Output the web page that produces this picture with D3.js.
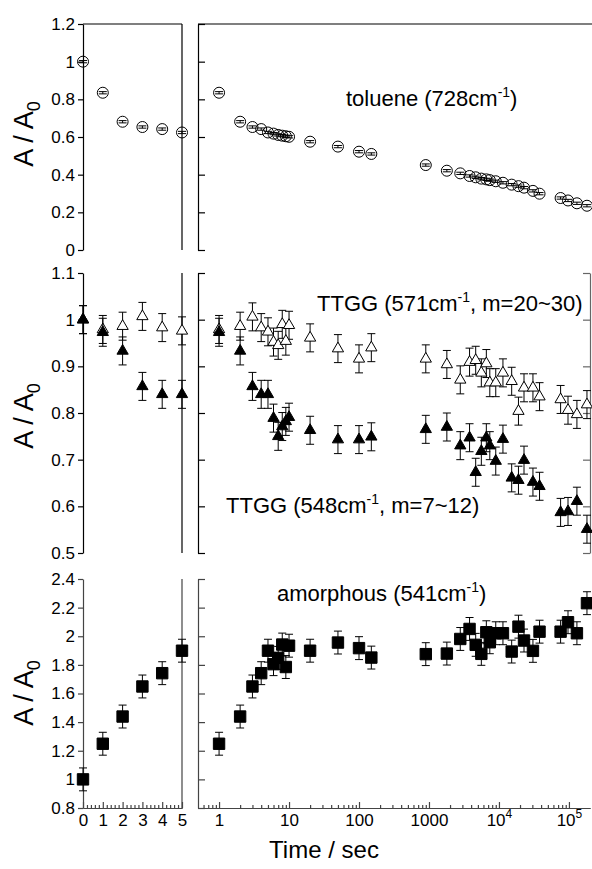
<!DOCTYPE html>
<html>
<head>
<meta charset="utf-8">
<script src="https://cdn.jsdelivr.net/npm/d3@7"></script>
<style>
  body { margin: 0; background: #fff; }
  svg { display: block; font-family: "Liberation Sans", Arial, sans-serif; }
</style>
</head>
<body>
<div id="chart"></div>
<script>
// time points (sec)
const tLeft = [0, 1, 2, 3, 4, 5];
const tRight = [1, 2, 3, 4, 5, 6, 7, 8, 9, 10, 20, 50, 100, 150,
  900, 1800, 2800, 3800, 4650, 5600, 6600, 7400, 9000, 11400, 15200,
  19000, 22800, 30600, 38000, 76000, 97000, 130000, 181000];

// toluene 728 cm-1
const toluLeft = [1.0, 0.835, 0.681, 0.653, 0.642, 0.624];
const toluRight = [0.835, 0.681, 0.653, 0.642, 0.624, 0.618, 0.611, 0.607, 0.604, 0.601,
  0.575, 0.549, 0.522, 0.510, 0.451, 0.421, 0.407, 0.393, 0.386, 0.379, 0.375,
  0.371, 0.365, 0.357, 0.347, 0.339, 0.331, 0.314, 0.299, 0.276, 0.263, 0.248, 0.235];
const toluErr = 0.006;

// TTGG 571 cm-1 (open triangles)
const t571Left = [1.0, 0.979, 0.986, 1.007, 0.983, 0.976];
const t571Right = [0.979, 0.986, 1.006, 0.983, 0.974, 0.952, 0.945, 0.990, 0.954, 0.988,
  0.961, 0.938, 0.916, 0.940, 0.916, 0.904, 0.871, 0.909, 0.913, 0.886, 0.906,
  0.865, 0.865, 0.886, 0.868, 0.804, 0.854, 0.854, 0.835, 0.829, 0.806, 0.797, 0.818];

// TTGG 548 cm-1 (filled triangles)
const t548Left = [1.0, 0.973, 0.933, 0.857, 0.840, 0.840];
const t548Right = [0.973, 0.933, 0.857, 0.840, 0.840, 0.789, 0.750, 0.771, 0.782, 0.791,
  0.763, 0.743, 0.743, 0.749, 0.765, 0.770, 0.730, 0.747, 0.673, 0.718, 0.747,
  0.730, 0.697, 0.744, 0.661, 0.656, 0.699, 0.652, 0.643, 0.587, 0.589, 0.611, 0.551];
const ttggErr = 0.03;

// amorphous 541 cm-1
const amorLeft = [1.0, 1.249, 1.439, 1.649, 1.742, 1.899];
const amorRight = [1.249, 1.439, 1.649, 1.742, 1.899, 1.805, 1.849, 1.942, 1.785, 1.934,
  1.899, 1.956, 1.917, 1.851, 1.875, 1.879, 1.981, 2.051, 1.940, 1.877, 2.028,
  1.958, 2.021, 2.021, 1.893, 2.067, 1.970, 1.898, 2.032, 2.032, 2.098, 2.021, 2.231];
const amorErr = 0.08;

const W = 592, H = 869;
const svg = d3.select("#chart").append("svg").attr("width", W).attr("height", H);

const xL = d3.scaleLinear().domain([0, 5]).range([83, 182]);
const xR = d3.scaleLog().domain([0.5, 2e5]).range([198, 590]);
const fmt = d3.format("~g");

const panels = [
  { y: d3.scaleLinear().domain([0, 1.2]).range([250, 24]), ticks: d3.range(0, 1.21, 0.2), box: true, rightSpine: false, color: "#000", labelY: 134 },
  { y: d3.scaleLinear().domain([0.5, 1.1]).range([553, 273]), ticks: d3.range(0.5, 1.11, 0.1), box: false, rightSpine: true, color: "#000", labelY: 416 },
  { y: d3.scaleLinear().domain([0.8, 2.4]).range([808, 579]), ticks: d3.range(0.8, 2.41, 0.2), box: false, rightSpine: false, color: "#444", labelY: 693 }
];

function styleAxis(g, color) {
  g.attr("font-family", null).attr("font-size", 17);
  g.selectAll("path, line").attr("stroke", color).attr("stroke-width", 1.2);
  g.selectAll("text").attr("fill", "#000");
}

panels.forEach(p => {
  const [y0, y1] = p.y.range();
  // left panel y axis with labels
  svg.append("g").attr("transform", "translate(83,0)")
    .call(d3.axisLeft(p.y).tickValues(p.ticks).tickSize(5).tickSizeOuter(0).tickPadding(3).tickFormat(fmt))
    .call(g => styleAxis(g, p.color));
  // right edge of left panel (t = 5)
  svg.append("line").attr("x1", xL(5)).attr("x2", xL(5)).attr("y1", y0).attr("y2", y1)
    .attr("stroke", p.color).attr("stroke-width", 1.2);
  // right panel: left spine, inward ticks
  svg.append("g").attr("transform", "translate(198,0)")
    .call(d3.axisRight(p.y).tickValues(p.ticks).tickSize(7).tickSizeOuter(0).tickFormat(""))
    .call(g => styleAxis(g, p.color));
  if (p.rightSpine) {
    svg.append("g").attr("transform", "translate(590,0)")
      .call(d3.axisLeft(p.y).tickValues(p.ticks).tickSize(7).tickSizeOuter(0).tickFormat(""))
      .call(g => styleAxis(g, "#666"));
  }
  if (p.box) {
    svg.append("line").attr("x1", 83).attr("x2", 182).attr("y1", y1).attr("y2", y1).attr("stroke", "#000").attr("stroke-width", 1.2);
    svg.append("line").attr("x1", 198).attr("x2", 592).attr("y1", y1).attr("y2", y1).attr("stroke", "#000").attr("stroke-width", 1.2);
  }
  // y label
  const lab = svg.append("text")
    .attr("transform", `translate(33,${p.labelY}) rotate(-90)`)
    .attr("text-anchor", "middle").attr("font-size", 27);
  lab.append("tspan").text("A / A");
  lab.append("tspan").attr("font-size", 18).attr("dy", 7).text("0");
});

// bottom x axes (panel 3)
const yBottom = 808;
const axColor = "#444";
svg.append("g").attr("transform", `translate(0,${yBottom})`)
  .call(d3.axisBottom(xL).tickValues([0, 1, 2, 3, 4, 5]).tickSize(-6).tickSizeOuter(0).tickPadding(6).tickFormat(fmt))
  .call(g => styleAxis(g, axColor));
svg.append("g").attr("transform", `translate(0,${yBottom})`)
  .call(d3.axisBottom(xL).tickValues(d3.range(0, 5.01, 0.2).filter(v => Math.abs(v - Math.round(v)) > 0.01)).tickSize(-3).tickSizeOuter(0).tickFormat(""))
  .call(g => styleAxis(g, axColor));

const majorR = [1, 10, 100, 1000, 1e4, 1e5];
const minorR = [];
for (let e = -1; e <= 5; e++) for (let k = 2; k <= 9; k++) {
  const v = k * Math.pow(10, e);
  if (v > 0.5 && v < 2e5) minorR.push(v);
}
svg.append("g").attr("transform", `translate(0,${yBottom})`)
  .call(d3.axisBottom(xR).tickValues(majorR).tickSize(-6).tickSizeOuter(0).tickPadding(6).tickFormat(d => d))
  .call(g => styleAxis(g, axColor))
  .call(g => g.selectAll(".tick text").each(function(d) {
    if (d >= 1e4) {
      const t = d3.select(this).text("");
      t.append("tspan").text("10");
      t.append("tspan").attr("font-size", 12).attr("dy", -8).text(Math.round(Math.log10(d)));
    } else {
      d3.select(this).text(d);
    }
  }));
svg.append("g").attr("transform", `translate(0,${yBottom})`)
  .call(d3.axisBottom(xR).tickValues(minorR).tickSize(-3).tickSizeOuter(0).tickFormat(""))
  .call(g => styleAxis(g, axColor));

svg.append("text").attr("x", 324).attr("y", 858).attr("text-anchor", "middle")
  .attr("font-size", 24).text("Time / sec");

// series drawing
function drawSeries(panel, xs, ts, vals, err, shape, fill) {
  const g = svg.append("g");
  const pts = ts.map((t, i) => ({ x: xs(t), y: panel.y(vals[i]), lo: panel.y(vals[i] - err), hi: panel.y(vals[i] + err) }));
  g.selectAll("path.eb").data(pts).enter().append("path")
    .attr("class", "eb")
    .attr("d", d => `M${d.x},${d.lo}V${d.hi}M${d.x - 4},${d.lo}H${d.x + 4}M${d.x - 4},${d.hi}H${d.x + 4}`)
    .attr("stroke", "#000").attr("stroke-width", 1).attr("fill", "none");
  if (shape === "circle") {
    g.selectAll("circle").data(pts).enter().append("circle")
      .attr("cx", d => d.x).attr("cy", d => d.y).attr("r", 5.5)
      .attr("fill", "none").attr("stroke", "#000").attr("stroke-width", 1);
  } else {
    const sym = shape === "triangle"
      ? d3.symbol().type(d3.symbolTriangle).size(55)
      : d3.symbol().type(d3.symbolSquare).size(130);
    g.selectAll("path.m").data(pts).enter().append("path")
      .attr("class", "m")
      .attr("transform", d => `translate(${d.x},${d.y})`)
      .attr("d", sym)
      .attr("fill", fill).attr("stroke", "#000").attr("stroke-width", 1);
  }
}

const [p1, p2, p3] = panels;
drawSeries(p1, xL, tLeft, toluLeft, toluErr, "circle");
drawSeries(p1, xR, tRight, toluRight, toluErr, "circle");
drawSeries(p2, xL, tLeft, t571Left, ttggErr, "triangle", "#fff");
drawSeries(p2, xR, tRight, t571Right, ttggErr, "triangle", "#fff");
drawSeries(p2, xL, tLeft, t548Left, ttggErr, "triangle", "#000");
drawSeries(p2, xR, tRight, t548Right, ttggErr, "triangle", "#000");
drawSeries(p3, xL, tLeft, amorLeft, amorErr, "square", "#000");
drawSeries(p3, xR, tRight, amorRight, amorErr, "square", "#000");

// annotations
function note(x, y, pre, sup, post) {
  const t = svg.append("text").attr("x", x).attr("y", y).attr("font-size", 22);
  t.append("tspan").text(pre);
  t.append("tspan").attr("font-size", 14).attr("dy", -9).text(sup);
  t.append("tspan").attr("dy", 9).text(post);
}
note(346, 106, "toluene (728cm", "-1", ")");
note(317, 311, "TTGG (571cm", "-1", ", m=20~30)");
note(226, 513, "TTGG (548cm", "-1", ", m=7~12)");
note(277, 601, "amorphous (541cm", "-1", ")");
</script>
</body>
</html>
